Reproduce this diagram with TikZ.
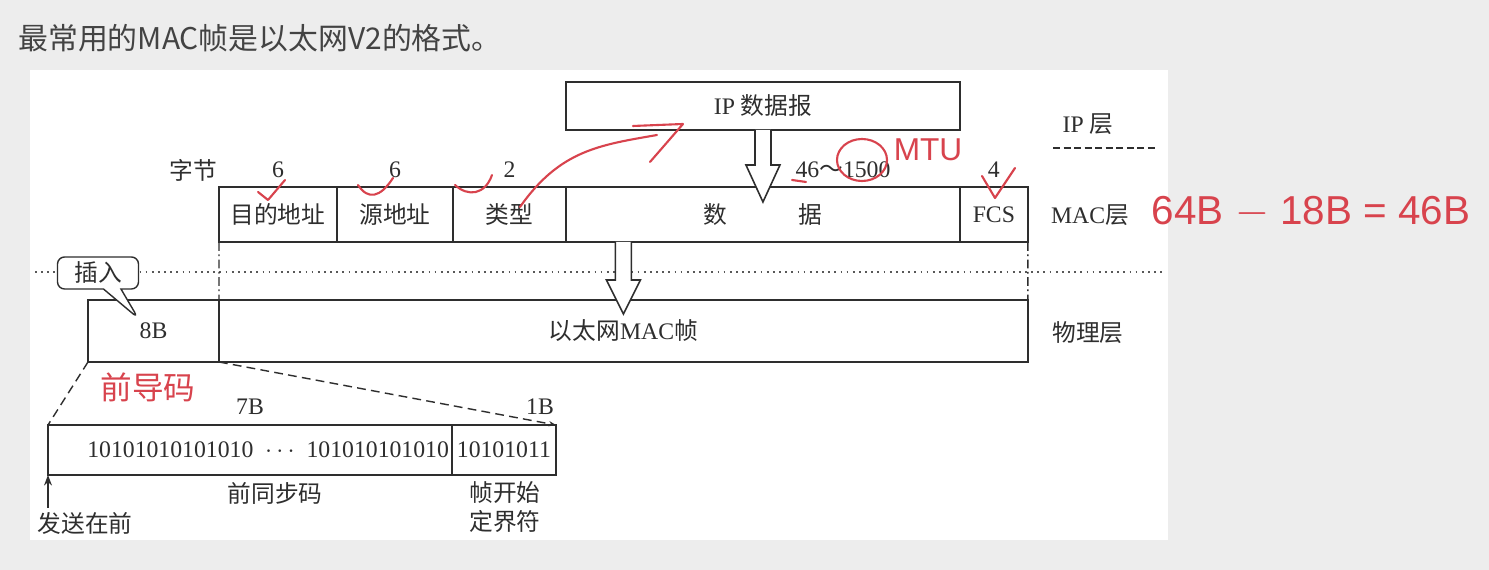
\documentclass[tikz,border=0pt]{standalone}
\usepackage{fontspec}
\setmainfont{Liberation Serif}
\newfontfamily\cjk{Noto Sans CJK SC}
\newfontfamily\hand{Liberation Sans}
\usetikzlibrary{arrows.meta, positioning, calc, shapes.callouts}
\definecolor{slidebg}{HTML}{EDEDED}
\definecolor{ink}{HTML}{2E2E2E}
\definecolor{pen}{HTML}{D8434D}
\newcommand{\figsize}{\fontsize{13.5}{16}\selectfont}

\begin{document}
\begin{tikzpicture}[
  x=0.02cm, y=-0.02cm,
  field/.style={draw=ink, line width=0.9pt, outer sep=0pt, inner sep=0pt,
                minimum height=1.1cm, font=\cjk\figsize, text=ink},
  num/.style={font=\figsize, text=ink, inner sep=1pt},
  cn/.style={font=\cjk\figsize, text=ink, inner sep=1pt},
  layer/.style={font=\figsize, text=ink, inner sep=1pt},
  hollow/.style={draw=ink, line width=0.9pt, fill=white, line join=miter},
  dashdot/.style={ink, line width=0.8pt, dash pattern=on 5pt off 2pt on 1pt off 2pt},
  zoomline/.style={ink, line width=0.8pt, dash pattern=on 5pt off 3pt},
  pennote/.style={pen, line width=1.2pt, line cap=round, line join=round},
  hollowdown/.pic={
    \draw[hollow] (-8,0) -- (-8,#1) -- (-17,#1) -- (0,72) -- (17,#1) -- (8,#1) -- (8,0);
  }
]
  \useasboundingbox (0,0) rectangle (1489,570);
  \fill[slidebg] (0,0) rectangle (1489,570);
  \fill[white] (30,70) rectangle (1168,540);

  % title
  \node[anchor=west, font=\cjk\fontsize{17}{20}\selectfont, text=ink!90, inner sep=0pt]
    (title) at (18,38) {最常用的MAC帧是以太网V2的格式。};

  % IP layer
  \node[field, minimum width=7.88cm, minimum height=0.96cm, anchor=north west, font=\figsize]
    (ipdg) at (566,82) {IP {\cjk 数据报}};
  \node[layer] (iplayer) at (1088,124) {IP {\cjk 层}};
  \coordinate (ipsepL) at (1053,148);
  \coordinate (ipsepR) at (1155,148);
  \draw[ink, line width=0.8pt, dash pattern=on 4pt off 2pt] (ipsepL) -- (ipsepR);

  % MAC frame
  \node[field, minimum width=2.36cm, anchor=north west] (dst) at (219,187) {目的地址};
  \node[field, minimum width=2.32cm, right=0pt of dst]  (src)  {源地址};
  \node[field, minimum width=2.26cm, right=0pt of src]  (type) {类型};
  \node[field, minimum width=7.88cm, right=0pt of type] (data) {数\hspace{3em}据};
  \node[field, minimum width=1.36cm, right=0pt of data, font=\figsize] (fcs) {FCS};

  \node[cn]  (bytes) at (193,170) {字节};
  \node[num, above=0.14cm of dst]  (ndst)  {6};
  \node[num, above=0.14cm of src]  (nsrc)  {6};
  \node[num, above=0.14cm of type] (ntype) {2};
  \node[num] (ndata) at (843,170) {46{\cjk ～}1500};
  \node[num, above=0.14cm of fcs]  (nfcs)  {4};
  \node[layer] (maclayer) at (1090,215) {MAC{\cjk 层}};

  \pic at (ipdg.south) {hollowdown=35};

  % layer boundary
  \coordinate (dotL) at (35,272);
  \coordinate (dotR) at (1165,272);
  \draw[ink!80, line width=0.8pt, dash pattern=on 1pt off 2.5pt] (dotL) -- (dotR);

  % physical layer
  \node[field, minimum width=2.62cm, minimum height=1.24cm, anchor=north west, font=\figsize]
    (pre) at (88,300) {8B};
  \node[field, minimum width=16.18cm, minimum height=1.24cm, right=0pt of pre] (eth)
    {以太网{\rmfamily MAC}帧};
  \node[layer] (phylayer) at (1088,333) {\cjk 物理层};

  \draw[dashdot] (dst.south west) -- (pre.north east);
  \draw[dashdot] (fcs.south east) -- (eth.north east);
  \coordinate (a2) at (dst.south -| eth.north);
  \pic at (a2) {hollowdown=38};

  \node[rectangle callout, draw=ink, line width=0.8pt, fill=white, rounded corners=4pt,
        minimum width=1.62cm, minimum height=0.64cm, inner sep=1pt, font=\cjk\figsize, text=ink,
        callout absolute pointer={(138,318)}, callout pointer width=0.35cm]
    (insert) at (98,273) {插入};

  % preamble detail
  \node[field, minimum width=8.08cm, minimum height=1cm, text width=7.96cm, align=right,
        anchor=north west, font=\figsize]
    (sync) at (48,425) {10101010101010\enspace$\cdots$\enspace101010101010};
  \node[field, minimum width=2.08cm, minimum height=1cm, right=0pt of sync, font=\figsize]
    (sfd) {10101011};
  \draw[zoomline] (pre.south west) -- (sync.north west);
  \draw[zoomline, -{Stealth[length=4pt]}] (pre.south east) -- (sfd.north east);

  \node[num] (n7b) at (250,407) {7B};
  \node[num] (n1b) at (540,407) {1B};
  \node[cn]  (synclbl) at (275,493) {前同步码};
  \node[cn, align=center, font=\cjk\fontsize{13.5}{16.5}\selectfont]
    (sfdlbl) at (505,507) {帧开始\\定界符};
  \coordinate (sendfoot) at (48,508);
  \draw[ink, line width=0.8pt, -{Stealth[length=6pt]}] (sendfoot) -- (sync.south west);
  \node[cn] (sendlbl) at (85,523) {发送在前};

  % handwritten notes
  \node[font=\cjk\fontsize{18}{20}\selectfont, text=pen] (pnote) at (148,387) {前导码};
  \node[font=\hand\fontsize{18}{20}\selectfont, text=pen] (mtu) at (928,150) {MTU};
  \node[font=\hand\fontsize{23}{26}\selectfont, text=pen, inner sep=0pt]
    (sumnote) at (1311,212) {64B $-$ 18B = 46B};
  \draw[pennote] (862,160) ellipse (25 and 21);
  \draw[pennote] (520,207) .. controls (560,150) and (600,145) .. (657,135);
  \draw[pennote] (633,126) -- (683,124) -- (650,162);
  \draw[pennote] (258,192) -- (268,200) -- (285,180);
  \draw[pennote] (358,185) .. controls (368,200) and (380,198) .. (393,178);
  \draw[pennote] (455,185) .. controls (468,197) and (485,195) .. (492,175);
  \draw[pennote] (982,176) -- (995,198) -- (1015,168);
  \draw[pennote] (792,180) -- (806,182);
\end{tikzpicture}
\end{document}
